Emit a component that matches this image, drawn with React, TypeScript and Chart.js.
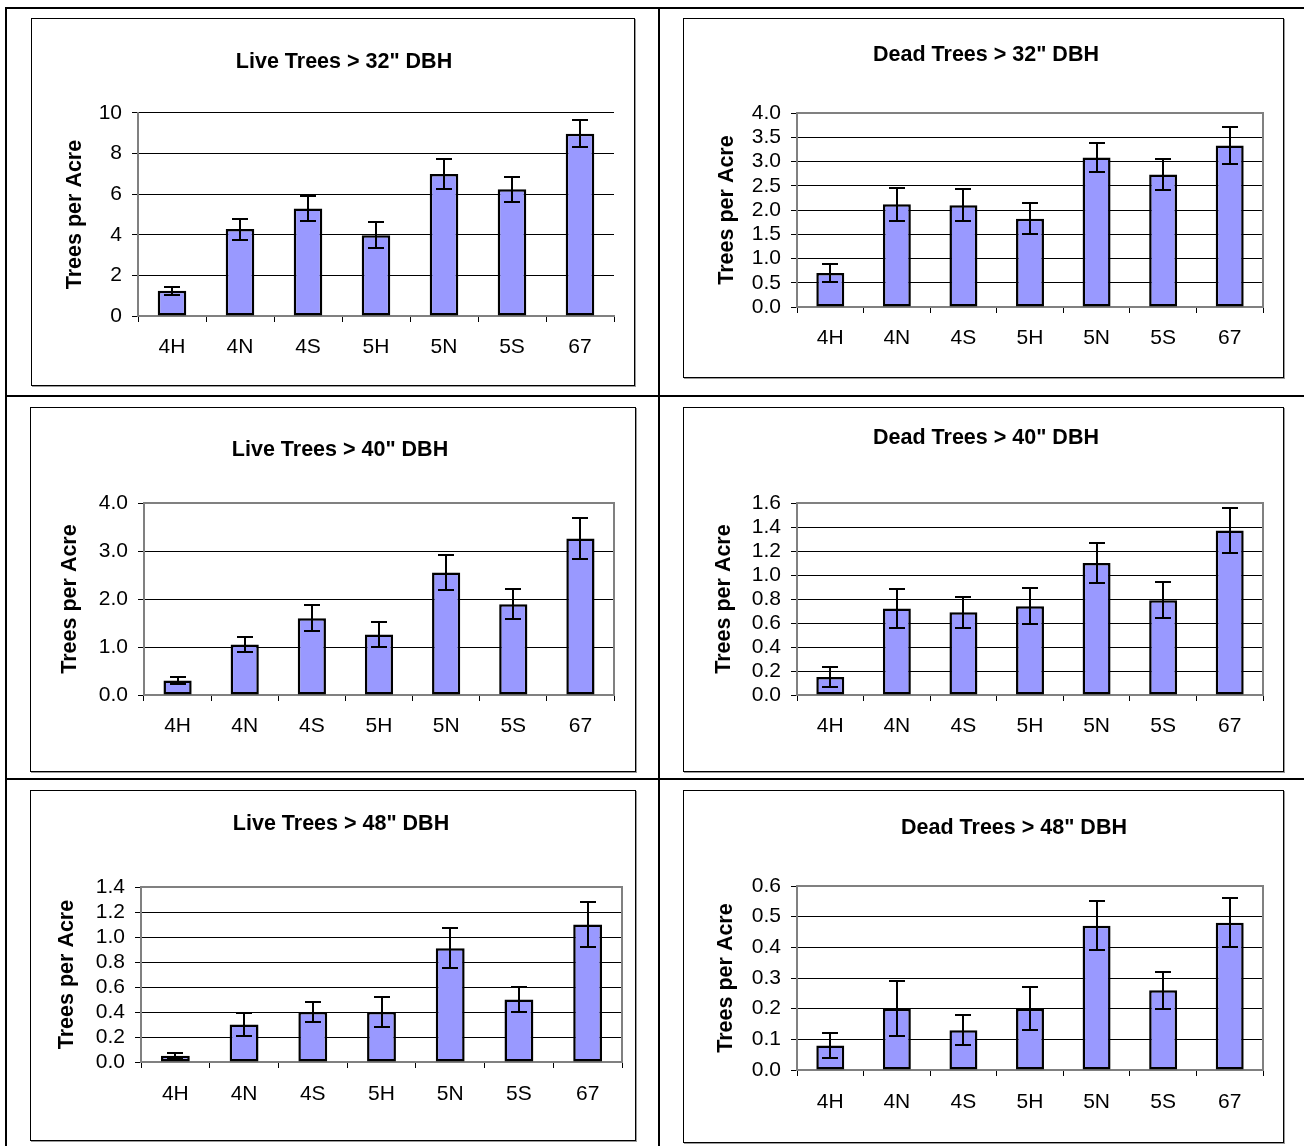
import React, { useEffect, useRef } from "react";
import { Chart, registerables } from "chart.js";

Chart.register(...registerables);

// ---------- DATA ----------
const CATEGORIES = ["4H", "4N", "4S", "5H", "5N", "5S", "67"];

const LIVE_32 = [1.25, 4.28, 5.3, 3.98, 7.0, 6.25, 8.98];
const LIVE_32_ERR = [0.2, 0.52, 0.6, 0.65, 0.72, 0.62, 0.67];

const DEAD_32 = [0.7, 2.12, 2.1, 1.82, 3.08, 2.73, 3.33];
const DEAD_32_ERR = [0.19, 0.34, 0.33, 0.32, 0.3, 0.32, 0.39];

const LIVE_40 = [0.3, 1.05, 1.6, 1.26, 2.55, 1.89, 3.26];
const LIVE_40_ERR = [0.08, 0.16, 0.27, 0.27, 0.36, 0.31, 0.42];

const DEAD_40 = [0.15, 0.72, 0.69, 0.74, 1.1, 0.79, 1.37];
const DEAD_40_ERR = [0.08, 0.16, 0.13, 0.15, 0.17, 0.15, 0.19];

const LIVE_48 = [0.05, 0.3, 0.4, 0.4, 0.91, 0.5, 1.1];
const LIVE_48_ERR = [0.02, 0.09, 0.08, 0.12, 0.16, 0.1, 0.18];

const DEAD_48 = [0.08, 0.2, 0.13, 0.2, 0.47, 0.26, 0.48];
const DEAD_48_ERR = [0.04, 0.09, 0.05, 0.07, 0.08, 0.06, 0.08];

const TITLES = [
  'Live Trees > 32" DBH',
  'Dead Trees > 32" DBH',
  'Live Trees > 40" DBH',
  'Dead Trees > 40" DBH',
  'Live Trees > 48" DBH',
  'Dead Trees > 48" DBH',
];
const Y_TITLE = "Trees per Acre";
// y axis: [max, step, decimals]
const Y_AXES = [
  [10, 2, 0],
  [4, 0.5, 1],
  [4, 1, 1],
  [1.6, 0.2, 1],
  [1.4, 0.2, 1],
  [0.6, 0.1, 1],
];
const SERIES = [LIVE_32, DEAD_32, LIVE_40, DEAD_40, LIVE_48, DEAD_48];
const ERRORS = [LIVE_32_ERR, DEAD_32_ERR, LIVE_40_ERR, DEAD_40_ERR, LIVE_48_ERR, DEAD_48_ERR];

// ---------- LAYOUT (page coordinates) ----------
// box: [x, y, w, h]; plot: [left, top, right, bottom]
const LAYOUT = [
  { box: [31, 18, 604, 368], plot: [138, 113, 614, 316], titleX: 344, titleY: 62, yTitleX: 75, labelY: 347, frame: false },
  { box: [683, 18, 601, 360], plot: [797, 113, 1263, 307], titleX: 986, titleY: 55, yTitleX: 727, labelY: 338, frame: true },
  { box: [30, 407, 606, 365], plot: [144, 503, 614, 695], titleX: 340, titleY: 450, yTitleX: 70, labelY: 726, frame: true },
  { box: [683, 407, 601, 365], plot: [797, 503, 1263, 695], titleX: 986, titleY: 438, yTitleX: 724, labelY: 726, frame: true },
  { box: [30, 790, 606, 351], plot: [141, 887, 622, 1062], titleX: 341, titleY: 824, yTitleX: 67, labelY: 1094, frame: true },
  { box: [683, 790, 601, 353], plot: [797, 886, 1263, 1070], titleX: 1014, titleY: 828, yTitleX: 726, labelY: 1102, frame: true },
];

const FONT = '"Liberation Sans", Arial, Helvetica, sans-serif';
const TITLE_SIZE = 21.5;
const YTITLE_SIZE = 21.5;
const TICK_SIZE = 21;
const BAR_COLOR = "#9999FF";
const AXIS_GRAY = "#808080";

const errorBarPlugin = {
  id: "errorBars",
  afterDatasetsDraw(chart: any, _args: any, opts: any) {
    const errs = opts && opts.errors;
    if (!errs) return;
    const meta = chart.getDatasetMeta(0);
    const yScale = chart.scales.y;
    const data = chart.data.datasets[0].data;
    const ctx = chart.ctx;
    ctx.save();
    ctx.strokeStyle = "#000";
    ctx.lineWidth = 2;
    meta.data.forEach((bar: any, i: number) => {
      const v = data[i];
      const e = errs[i];
      const x = Math.round(bar.x);
      const yHi = Math.round(yScale.getPixelForValue(v + e));
      const yLo = Math.round(yScale.getPixelForValue(v - e));
      ctx.beginPath();
      ctx.moveTo(x, yHi);
      ctx.lineTo(x, yLo);
      ctx.moveTo(x - 8, yHi);
      ctx.lineTo(x + 8, yHi);
      ctx.moveTo(x - 8, yLo);
      ctx.lineTo(x + 8, yLo);
      ctx.stroke();
    });
    ctx.restore();
  },
};

const plotFramePlugin = {
  id: "plotFrame",
  beforeDatasetsDraw(chart: any, _args: any, opts: any) {
    if (!opts || !opts.show) return;
    const { left, right, top, bottom } = chart.chartArea;
    const ctx = chart.ctx;
    ctx.save();
    ctx.strokeStyle = AXIS_GRAY;
    ctx.lineWidth = 2;
    ctx.beginPath();
    ctx.moveTo(left, top);
    ctx.lineTo(right, top);
    ctx.lineTo(right, bottom);
    ctx.stroke();
    ctx.restore();
  },
};

// shifts the chart title horizontally so it is centred on a given x
const titleShiftPlugin = {
  id: "titleShift",
  afterLayout(chart: any, _args: any, opts: any) {
    const tb = chart.titleBlock;
    if (!tb || opts == null || opts.centerX == null) return;
    const dx = opts.centerX - (tb.left + tb.right) / 2;
    tb.left += dx;
    tb.right += dx;
  },
};

function makeConfig(i: number): any {
  const L = LAYOUT[i];
  const [bx, by, bw, bh] = L.box;
  const [pl, pt, pr, pb] = L.plot;
  const [yMax, yStep, dec] = Y_AXES[i];

  const titleLH = TITLE_SIZE * 1.2;
  const tTop = L.titleY - by - titleLH / 2;
  const tBottom = pt - by - tTop - titleLH;

  const yTitleLH = YTITLE_SIZE * 1.2;
  const padLeft = L.yTitleX - bx - yTitleLH / 2;
  const yWidth = pl - bx - padLeft;

  const padRight = bx + bw - pr;
  const xHeight = by + bh - pb;
  const tickLH = TICK_SIZE * 1.2;
  const xLabelPad = L.labelY - pb - 6 - tickLH / 2;

  return {
    type: "bar",
    data: {
      labels: CATEGORIES,
      datasets: [
        {
          data: SERIES[i],
          backgroundColor: BAR_COLOR,
          borderColor: "#000",
          borderWidth: 2.5,
          borderSkipped: false,
          barPercentage: 0.42,
          categoryPercentage: 1,
        },
      ],
    },
    options: {
      responsive: false,
      animation: false,
      devicePixelRatio: 1,
      layout: { padding: { left: padLeft, right: padRight, top: 0, bottom: 0 } },
      plugins: {
        legend: { display: false },
        tooltip: { enabled: false },
        title: {
          display: true,
          text: TITLES[i],
          color: "#000",
          font: { family: FONT, size: TITLE_SIZE, weight: "bold" },
          padding: { top: tTop, bottom: tBottom },
        },
        titleShift: { centerX: L.titleX - bx },
        errorBars: { errors: ERRORS[i] },
        plotFrame: { show: L.frame },
      },
      scales: {
        x: {
          grid: {
            display: true,
            drawOnChartArea: false,
            drawTicks: true,
            tickLength: 6,
            color: "#000",
            lineWidth: 1,
            offset: true,
          },
          border: { display: true, color: AXIS_GRAY, width: 2 },
          ticks: {
            color: "#000",
            font: { family: FONT, size: TICK_SIZE },
            padding: xLabelPad,
            maxRotation: 0,
            minRotation: 0,
            autoSkip: false,
          },
          afterFit: (s: any) => {
            s.height = xHeight;
          },
        },
        y: {
          min: 0,
          max: yMax,
          grid: { color: "#000", lineWidth: 1, tickLength: 6, drawTicks: true },
          border: { display: true, color: AXIS_GRAY, width: 2 },
          ticks: {
            stepSize: yStep,
            autoSkip: false,
            color: "#000",
            font: { family: FONT, size: TICK_SIZE },
            padding: 10,
            callback: (v: any) => Number(v).toFixed(dec),
          },
          title: {
            display: true,
            text: Y_TITLE,
            color: "#000",
            font: { family: FONT, size: YTITLE_SIZE, weight: "bold" },
            padding: { top: 0, bottom: 0 },
          },
          afterFit: (s: any) => {
            s.width = yWidth;
          },
        },
      },
    },
    plugins: [titleShiftPlugin, errorBarPlugin, plotFramePlugin],
  };
}

function Panel({ index }: { index: number }) {
  const ref = useRef<HTMLCanvasElement | null>(null);
  useEffect(() => {
    if (!ref.current) return;
    const chart = new Chart(ref.current, makeConfig(index));
    return () => chart.destroy();
  }, [index]);
  const [x, y, w, h] = LAYOUT[index].box;
  return (
    <>
      <canvas
        ref={ref}
        width={w}
        height={h}
        style={{ position: "absolute", left: x, top: y, width: w, height: h, display: "block" }}
      />
      <div
        style={{
          position: "absolute",
          left: x,
          top: y,
          width: w,
          height: h,
          border: "1px solid #000",
          boxShadow: "1px 1px 0 #9a9a9a",
          boxSizing: "border-box",
          pointerEvents: "none",
        }}
      />
    </>
  );
}

function Line({ x, y, w, h }: { x: number; y: number; w: number; h: number }) {
  return <div style={{ position: "absolute", left: x, top: y, width: w, height: h, background: "#000" }} />;
}

export default function App() {
  return (
    <div
      style={{
        position: "absolute",
        left: 0,
        top: 0,
        width: 1304,
        height: 1146,
        background: "#fff",
        overflow: "hidden",
      }}
    >
      <Line x={5} y={7} w={1299} h={2} />
      <Line x={5} y={7} w={2} h={1139} />
      <Line x={658} y={7} w={2} h={1139} />
      <Line x={5} y={395} w={1299} h={2} />
      <Line x={5} y={778} w={1299} h={2} />
      {LAYOUT.map((_, i) => (
        <Panel key={i} index={i} />
      ))}
    </div>
  );
}
